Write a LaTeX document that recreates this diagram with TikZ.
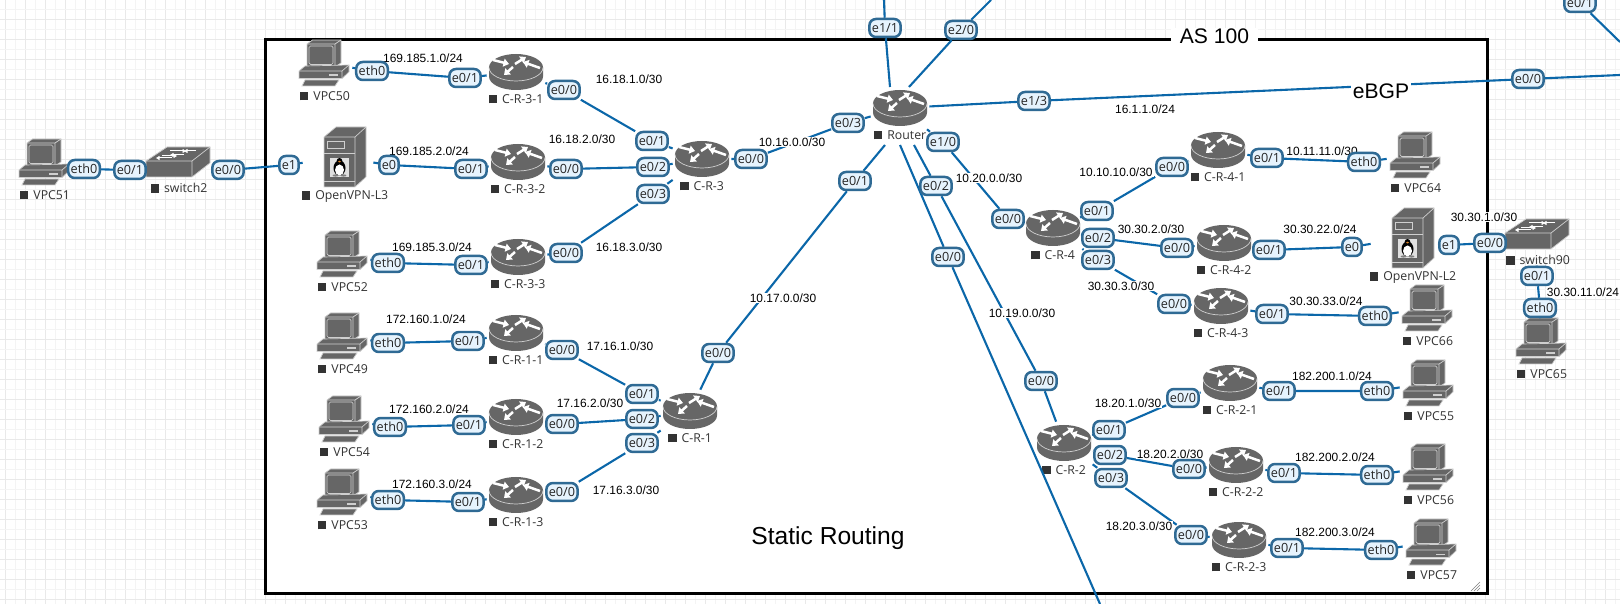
\documentclass[tikz,border=0pt]{standalone}
\usepackage{fontspec}
\setmainfont{Liberation Sans}
\newfontfamily\devfont{Open Sans}
\usetikzlibrary{arrows.meta}
\definecolor{gridstrong}{HTML}{E9E9E9}
\definecolor{gridweak}{HTML}{F4F4F4}
\definecolor{icongray}{HTML}{666666}
\definecolor{iconline}{HTML}{CFCFCF}
\definecolor{wireblue}{HTML}{0B67A9}
\definecolor{portedge}{HTML}{2F6A94}
\definecolor{portfill}{HTML}{E6F3FD}
\definecolor{devtext}{HTML}{333333}
\pgfdeclarelayer{ports}
\pgfsetlayers{main,ports}
\newcommand{\devsq}{\rule{0.17cm}{0.17cm}\hspace{0.1cm}}
\tikzset{
  port/.style={draw=portedge,fill=portfill,line width=0.05cm,rounded corners=0.13cm,
    minimum height=0.36cm,inner xsep=0.05cm,inner ysep=0pt,text=black!85,
    font=\devfont\fontsize{7.2}{8}\selectfont},
  wire/.style={draw=wireblue,line width=0.042cm},
  subnet/.style={fill=white,inner xsep=0.02cm,inner ysep=0.01cm,
    font=\fontsize{6.8}{8}\selectfont},
  bigtext/.style={fill=white,inner xsep=0.04cm,inner ysep=0.01cm,
    font=\fontsize{12}{14}\selectfont},
  devlabel/.style={text=devtext,inner sep=0pt,font=\devfont\fontsize{7}{8}\selectfont},
  routerbox/.style={minimum width=1.16cm,minimum height=0.84cm,inner sep=0pt},
  pcbox/.style={minimum width=1.12cm,minimum height=1.04cm,inner sep=0pt},
  switchbox/.style={minimum width=1.32cm,minimum height=0.7cm,inner sep=0pt},
  serverbox/.style={minimum width=1.4cm,minimum height=1.3cm,inner sep=0pt},
  edgeline/.style={draw=iconline,line width=0.014cm},
  routericon/.pic={
    \fill[icongray] (-27,-4.5) -- (-27,4.5) arc[start angle=180,end angle=0,x radius=27,y radius=13.5]
      -- (27,-4.5) arc[start angle=0,end angle=-180,x radius=27,y radius=13.5] -- cycle;
    \draw[edgeline] (-27,-4.5) arc[start angle=180,end angle=0,x radius=27,y radius=13.5];
    \foreach \ax/\ay/\bx/\by in {-23/-12/-7/-8,-1/-8/10/-15,24/-4/7/-10,-3/-5/-12/3}
      \draw[white,line width=0.05cm,-{Triangle[length=0.11cm,width=0.16cm]}] (\ax,\ay) -- (\bx,\by);
  },
  pcicon/.pic={
    \filldraw[fill=icongray,edgeline] (-17,-19) -- (-11.5,-23) -- (17,-23) -- (17,0) -- (11,4) -- (-17,4) -- cycle;
    \draw[edgeline] (-17,-19) -- (11,-19) -- (17,-23) (11,-19) -- (11,4);
    \draw[edgeline,rounded corners=0.03cm] (-15,-17) rectangle (9,1.5);
    \filldraw[fill=icongray,edgeline] (-25,8) -- (-19,3) -- (25,2) -- (25,9) -- (18,15.5) -- (-25,15.5) -- cycle;
    \draw[edgeline] (-25,8) -- (18,8) -- (25,2) (18,8) -- (18,15.5);
    \fill[iconline] (5,11.5) rectangle (14,13);
    \filldraw[fill=icongray,edgeline] (-22,23) -- (11,23) -- (15,17) -- (-19,17) -- cycle;
  },
  switchicon/.pic={
    \filldraw[fill=icongray,edgeline] (-32,-1) -- (-11,-15) -- (32,-15) -- (32,1) -- (14,15) -- (-32,15) -- cycle;
    \draw[edgeline] (-32,-1) -- (14,-1) -- (32,-15) (14,-1) -- (14,15);
    \foreach \ax/\ay/\bx in {-8/-11/8,18/-11/6,-16/-6/-1,6/-7/-8,-6/-4/-22}
      \draw[white,line width=0.02cm,-{Triangle[length=0.07cm,width=0.08cm]}] (\ax,\ay) -- (\bx,\ay);
  },
  servericon/.pic={
    \filldraw[fill=icongray,edgeline] (-21,-20) -- (-9,-30) -- (21,-30) -- (21,20) -- (10,30) -- (-21,30) -- cycle;
    \draw[edgeline] (-21,-20) -- (10,-20) -- (21,-30) (10,-20) -- (10,30);
    \draw[edgeline] (-18,-16) rectangle (-1,-9) (-21,-4) -- (10,-4) (-21,24) -- (10,24);
    \fill[white!88!black] (-15,1) rectangle (4,20);
    \fill[black] (-5.5,11) ellipse[x radius=6,y radius=7.5] (-5.5,4.5) ellipse[x radius=3,y radius=3.5];
    \fill[white] (-5.5,13) ellipse[x radius=4.5,y radius=5.5];
    \fill[orange!70!gray] (-5.5,4.6) ellipse[x radius=1.5,y radius=0.9];
    \fill[gray] (-9.5,18.5) ellipse[x radius=2.8,y radius=1.1] (-1.5,18.5) ellipse[x radius=2.8,y radius=1.1];
  }
}
\newcommand{\portlink}[6]{
  \begin{pgfonlayer}{ports}
    \node[port] (#1-#6-a) at (#2) {#3};
    \node[port] (#1-#6-b) at (#4) {#5};
  \end{pgfonlayer}
  \draw[wire] (#1) -- (#1-#6-a) -- (#1-#6-b) -- (#6);
}
\newcommand{\portstub}[4]{
  \begin{pgfonlayer}{ports}
    \node[port] (#1-#4-a) at (#2) {#3};
  \end{pgfonlayer}
  \draw[wire] (#1) -- (#1-#4-a) -- (#4);
}
\begin{document}
\begin{tikzpicture}[x=0.02cm,y=-0.02cm]
\useasboundingbox (0,0) rectangle (1620,604);
\fill[white] (0,0) rectangle (1620,604);
\foreach \k in {0,...,80} {
  \draw[gridweak,line width=0.02cm] (15.7+20*\k,0) -- (15.7+20*\k,604);
  \draw[gridstrong,line width=0.02cm] (5.7+20*\k,0) -- (5.7+20*\k,604);
}
\foreach \k in {0,...,30} {
  \draw[gridweak,line width=0.02cm] (0,9.3+20*\k) -- (1620,9.3+20*\k);
  \draw[gridstrong,line width=0.02cm] (0,19.3+20*\k) -- (1620,19.3+20*\k);
}
\draw[black,fill=white,line width=0.06cm] (265,39.5) rectangle (1487.5,593);
\foreach \k in {0,3,6}
  \draw[gray,line width=0.012cm] (1471+\k,591) -- (1480,582+\k);

\foreach \name/\x/\y/\txt in {
  router/900/108/Router,cr3/702/159/C-R-3,cr31/516/72/C-R-3-1,cr32/518/162/C-R-3-2,cr33/518/257/C-R-3-3,
  cr1/690/411/C-R-1,cr11/516/333/C-R-1-1,cr12/516/417/C-R-1-2,cr13/516/495/C-R-1-3,
  cr4/1053/228/C-R-4,cr41/1218/150/C-R-4-1,cr42/1224/243/C-R-4-2,cr43/1221/306/C-R-4-3,
  cr2/1064/443/C-R-2,cr21/1230/383/C-R-2-1,cr22/1236/465/C-R-2-2,cr23/1239/540/C-R-2-3}
{
  \node[routerbox] (\name) at (\x,\y) {};
  \pic at (\name) {routericon};
  \node[devlabel] (\name-l) at (\x,\y+27) {\devsq\txt};
}
\foreach \name/\x/\y/\txt in {
  vpc51/44/162/VPC51,vpc50/324/63/VPC50,vpc52/342/254/VPC52,vpc49/342/336/VPC49,vpc54/344/419/VPC54,
  vpc53/342/492/VPC53,vpc64/1415/155/VPC64,vpc66/1427/308/VPC66,vpc65/1541/341/VPC65,
  vpc55/1428/383/VPC55,vpc56/1428/467/VPC56,vpc57/1431/542/VPC57}
{
  \node[pcbox] (\name) at (\x,\y) {};
  \pic at (\name) {pcicon};
  \node[devlabel] (\name-l) at (\x+1,\y+33) {\devsq\txt};
}
\foreach \name/\x/\y/\txt in {switch2/178/162/switch2,switch90/1537/234/switch90}
{
  \node[switchbox] (\name) at (\x,\y) {};
  \pic at (\name) {switchicon};
  \node[devlabel] (\name-l) at (\x+1,\y+26) {\devsq\txt};
}
\foreach \name/\x/\y/\txt in {vpnl3/338/157/OpenVPN-L3,vpnl2/1406/238/OpenVPN-L2}
{
  \node[serverbox] (\name) at (\x,\y) {};
  \pic at (\x+7,\y) {servericon};
  \node[devlabel] (\name-l) at (\x+7,\y+40) {\devsq\txt};
}

\coordinate (rlow1) at (885,145);
\coordinate (rlow2) at (914,145);
\coordinate (rlow3) at (900,145);
\coordinate (rtop1) at (890,87);
\coordinate (rtop2) at (909,87);
\coordinate (swlow) at (1537,270);
\coordinate (topleft) at (884,0);
\coordinate (topright) at (991,0);
\coordinate (bottomend) at (1100,604);
\coordinate (rightend) at (1620,75);
\coordinate (farcorner) at (1620,42);

\portlink{vpc51}{84,169}{eth0}{130,170}{e0/1}{switch2}
\portlink{switch2}{228,170}{e0/0}{289,165}{e1}{vpnl3}
\portlink{vpnl3}{389,165}{e0}{471,169}{e0/1}{cr32}
\portlink{vpc50}{372,71}{eth0}{465,78}{e0/1}{cr31}
\portlink{vpc52}{388,263}{eth0}{471,265}{e0/1}{cr33}
\portlink{cr31}{564,90}{e0/0}{652,141}{e0/1}{cr3}
\portlink{cr32}{566,169}{e0/0}{653,167}{e0/2}{cr3}
\portlink{cr33}{566,253}{e0/0}{653,194}{e0/3}{cr3}
\portlink{cr3}{751,159}{e0/0}{848,123}{e0/3}{router}
\portlink{vpc49}{388,343}{eth0}{468,341}{e0/1}{cr11}
\portlink{vpc54}{390,427}{eth0}{469,425}{e0/1}{cr12}
\portlink{vpc53}{388,500}{eth0}{468,502}{e0/1}{cr13}
\portlink{cr11}{562,350}{e0/0}{642,394}{e0/1}{cr1}
\portlink{cr12}{562,424}{e0/0}{642,419}{e0/2}{cr1}
\portlink{cr13}{562,492}{e0/0}{642,443}{e0/3}{cr1}
\portlink{cr1}{718,353}{e0/0}{855,181}{e0/1}{rlow1}
\portlink{router}{943,142}{e1/0}{1008,219}{e0/0}{cr4}
\portlink{cr4}{1097,211}{e0/1}{1172,167}{e0/0}{cr41}
\portlink{cr4}{1098,238}{e0/2}{1177,248}{e0/0}{cr42}
\portlink{cr4}{1098,260}{e0/3}{1174,304}{e0/0}{cr43}
\portlink{cr41}{1267,158}{e0/1}{1364,162}{eth0}{vpc64}
\portlink{cr42}{1269,250}{e0/1}{1352,247}{e0}{vpnl2}
\portlink{cr43}{1272,314}{e0/1}{1375,316}{eth0}{vpc66}
\portlink{vpnl2}{1449,245}{e1}{1490,243}{e0/0}{switch90}
\portlink{swlow}{1537,276}{e0/1}{1540,308}{eth0}{vpc65}
\portlink{rlow2}{936,186}{e0/2}{1041,381}{e0/0}{cr2}
\portlink{cr2}{1109,430}{e0/1}{1183,398}{e0/0}{cr21}
\portlink{cr2}{1110,455}{e0/2}{1189,469}{e0/0}{cr22}
\portlink{cr2}{1111,478}{e0/3}{1191,535}{e0/0}{cr23}
\portlink{cr21}{1279,391}{e0/1}{1377,391}{eth0}{vpc55}
\portlink{cr22}{1284,473}{e0/1}{1377,475}{eth0}{vpc56}
\portlink{cr23}{1287,548}{e0/1}{1381,550}{eth0}{vpc57}
\portlink{router}{1034,101}{e1/3}{1528,79}{e0/0}{rightend}
\portstub{rtop1}{885,28}{e1/1}{topleft}
\portstub{rtop2}{961,30}{e2/0}{topright}
\portstub{rlow3}{948,257}{e0/0}{bottomend}
\begin{pgfonlayer}{ports}
  \node[port] (farport) at (1580,3) {e0/1};
\end{pgfonlayer}
\draw[wire] (farport) -- (farcorner);

\node[subnet] (net1851) at (423,58) {169.185.1.0/24};
\node[subnet] (net1852) at (429,151) {169.185.2.0/24};
\node[subnet] (net1853) at (432,247) {169.185.3.0/24};
\node[subnet] (net181) at (629,79) {16.18.1.0/30};
\node[subnet] (net182) at (582,139) {16.18.2.0/30};
\node[subnet] (net183) at (629,247) {16.18.3.0/30};
\node[subnet] (net160) at (792,142) {10.16.0.0/30};
\node[subnet] (net170) at (783,298) {10.17.0.0/30};
\node[subnet] (net1601) at (426,319) {172.160.1.0/24};
\node[subnet] (net1602) at (429,409) {172.160.2.0/24};
\node[subnet] (net1603) at (432,484) {172.160.3.0/24};
\node[subnet] (net161) at (620,346) {17.16.1.0/30};
\node[subnet] (net162) at (590,403) {17.16.2.0/30};
\node[subnet] (net163) at (626,490) {17.16.3.0/30};
\node[subnet] (net111) at (1145,109) {16.1.1.0/24};
\node[subnet] (net200) at (989,178) {10.20.0.0/30};
\node[subnet] (net190) at (1022,313) {10.19.0.0/30};
\node[subnet] (net1010) at (1116,172) {10.10.10.0/30};
\node[subnet] (net1111) at (1322,151) {10.11.11.0/30};
\node[subnet] (net302) at (1151,229) {30.30.2.0/30};
\node[subnet] (net3022) at (1320,229) {30.30.22.0/24};
\node[subnet] (net303) at (1121,286) {30.30.3.0/30};
\node[subnet] (net3033) at (1326,301) {30.30.33.0/24};
\node[subnet] (net301) at (1484,217) {30.30.1.0/30};
\node[subnet] (net3011) at (1583,292) {30.30.11.0/24};
\node[subnet] (net201) at (1128,403) {18.20.1.0/30};
\node[subnet] (net202) at (1170,454) {18.20.2.0/30};
\node[subnet] (net203) at (1139,526) {18.20.3.0/30};
\node[subnet] (net2001) at (1332,376) {182.200.1.0/24};
\node[subnet] (net2002) at (1335,457) {182.200.2.0/24};
\node[subnet] (net2003) at (1335,532) {182.200.3.0/24};
\node[bigtext,inner xsep=0.18cm] (asname) at (1214.5,36) {AS 100};
\node[bigtext] (ebgp) at (1381,91) {eBGP};
\node[bigtext,fill=none,font=\fontsize{14}{16}\selectfont] (staticname) at (828,538) {Static Routing};
\end{tikzpicture}
\end{document}
